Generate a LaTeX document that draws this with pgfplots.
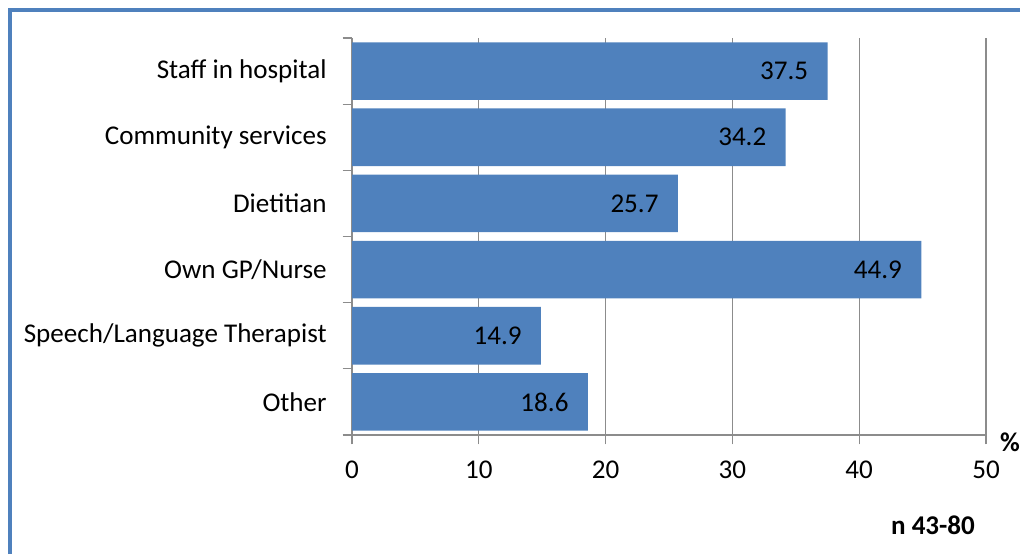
\documentclass[border=0pt]{standalone}
\usepackage{pgfplots}
\pgfplotsset{compat=1.18}
\usepackage{fontspec}
\setmainfont{Carlito}
\definecolor{barblue}{HTML}{4F81BD}
\definecolor{gridgray}{HTML}{8C8C8C}
\begin{document}
\begin{tikzpicture}
\path[use as bounding box] (0,0) rectangle (765pt,415.5pt);
\draw[barblue, line width=3pt] (7.5pt,0pt) -- (7.5pt,408pt) -- (765pt,408pt);
\begin{axis}[
  at={(264pt,89.25pt)}, anchor=south west,
  scale only axis, width=475.5pt, height=297.75pt,
  xmin=0, xmax=50, ymin=-0.5, ymax=5.5,
  xbar, bar width=0.87, bar shift=0pt,
  axis x line*=bottom, axis y line*=left,
  axis line style={gridgray, line width=0.9pt},
  xtick={0,10,...,50},
  xmajorgrids, major grid style={gridgray, line width=0.9pt},
  ytick={-0.5,0.5,...,5.5},
  y tick label as interval,
  yticklabels={Other,Speech/Language Therapist,Own GP/Nurse,Dietitian,Community services,Staff in hospital},
  tick style={gridgray, line width=0.9pt},
  tick align=outside, major tick length=7pt,
  x tick label style={yshift=-9pt},
  y tick label style={xshift=-8.5pt},
  tick label style={font=\fontsize{20.3}{24}\selectfont},
  /pgf/number format/assume math mode=true,
  nodes near coords,
  nodes near coords style={anchor=east, xshift=-11pt, font=\fontsize{20.3}{24}\selectfont, black},
  point meta=explicit symbolic,
  clip=false,
]
\addplot[fill=barblue, draw=none] coordinates {
  (18.6,0) [18.6]
  (14.9,1) [14.9]
  (44.9,2) [44.9]
  (25.7,3) [25.7]
  (34.2,4) [34.2]
  (37.5,5) [37.5]
};
\end{axis}
\node[font=\fontsize{20.3}{24}\selectfont\bfseries] at (757.5pt,84pt) {\%};
\node[font=\fontsize{20.3}{24}\selectfont\bfseries] at (699.75pt,21.75pt) {n 43-80};
\end{tikzpicture}
\end{document}
